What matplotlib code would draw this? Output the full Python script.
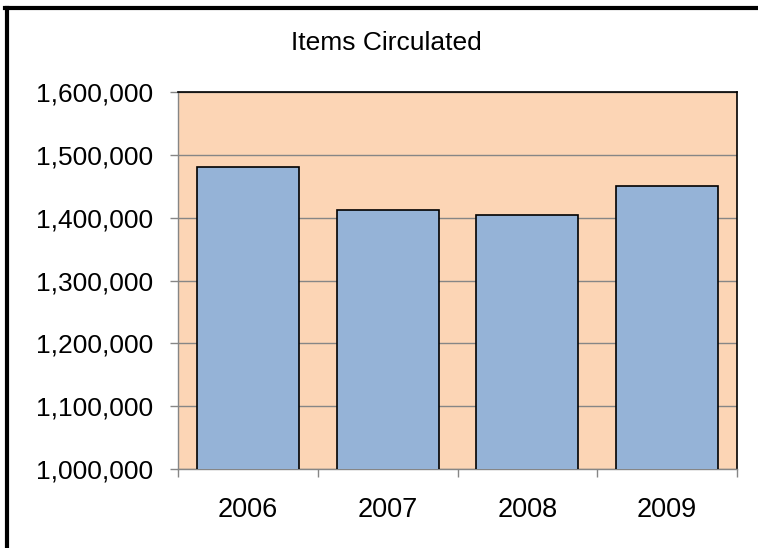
import matplotlib
matplotlib.use("Agg")
import matplotlib.pyplot as plt
from matplotlib.ticker import FuncFormatter, FixedLocator
from matplotlib.lines import Line2D

years = ["2006", "2007", "2008", "2009"]
items = [1480000, 1412000, 1405000, 1451000]
yticks = [1000000, 1100000, 1200000, 1300000, 1400000, 1500000, 1600000]

plt.rcParams['font.family'] = ['Liberation Sans', 'DejaVu Sans']

fig = plt.figure(figsize=(7.58, 5.48), dpi=100)
W, H = 758, 548
ax = fig.add_axes([178 / W, 1 - 469 / H, (737 - 178) / W, (469 - 92) / H])
ax.set_facecolor('#FCD5B5')

x = list(range(len(years)))
ax.bar(x, items, width=0.73, color='#95B3D7', edgecolor='black', linewidth=1.2, zorder=3)
ax.set_xlim(-0.5, len(years) - 0.5)
ax.set_ylim(1000000, 1600000)
ax.set_yticks(yticks)
ax.yaxis.set_major_formatter(FuncFormatter(lambda v, p: f"{int(v):,}"))
ax.grid(axis='y', color='#868686', linewidth=1, zorder=1)
ax.set_xticks(x)
ax.set_xticklabels(years)
ax.xaxis.set_minor_locator(FixedLocator([i - 0.5 for i in range(len(years) + 1)]))
ax.tick_params(axis='x', which='major', length=0, labelsize=19.5, pad=20)
ax.tick_params(axis='x', which='minor', length=5.8, color='#868686', width=1)
ax.tick_params(axis='y', length=5.8, color='#868686', width=1, labelsize=19, pad=12)
for s in ['left', 'bottom']:
    ax.spines[s].set_color('#868686')
    ax.spines[s].set_linewidth(1)
for s in ['top', 'right']:
    ax.spines[s].set_color('black')
    ax.spines[s].set_linewidth(1.2)

fig.text(386 / W, 1 - 43 / H, "Items Circulated", ha='center', va='center', fontsize=19)

fig.add_artist(Line2D([5 / W, 1], [1 - 8 / H, 1 - 8 / H], color='black', linewidth=3, transform=fig.transFigure))
fig.add_artist(Line2D([6.5 / W, 6.5 / W], [0, 1 - 8 / H], color='black', linewidth=3, transform=fig.transFigure))

fig.savefig("out.png", dpi=100)
